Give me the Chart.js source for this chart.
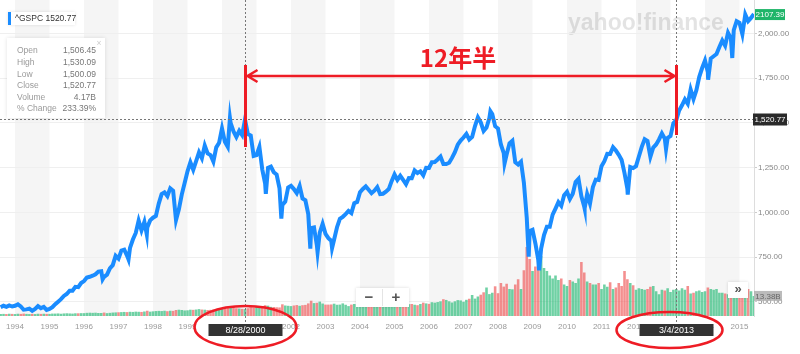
<!DOCTYPE html>
<html>
<head>
<meta charset="utf-8">
<script src="https://cdn.jsdelivr.net/npm/chart.js@4.4.1/dist/chart.umd.min.js"></script>
<style>
  html, body { margin: 0; padding: 0; background: #fff; }
  #wrap { width: 800px; height: 354px; }
</style>
</head>
<body>
<div id="wrap"><canvas id="chartGspc" width="800" height="354"></canvas></div>
<script>
// ^GSPC month-end closes, Jul 1993 .. May 2015
const closes = [
  470, 478, 472, 480, 474, 478,
  486, 474, 456, 458, 462, 450, 460, 476, 465, 472, 455, 460,
  470, 487, 501, 515, 533, 544, 562, 562, 584, 582, 605, 616,
  636, 640, 646, 654, 669, 671, 640, 652, 687, 705, 757, 741,
  786, 791, 757, 801, 848, 885, 954, 899, 947, 915, 955, 970,
  980, 1049, 1102, 1112, 1091, 1134, 1121, 957, 1017, 1099, 1164, 1229,
  1280, 1238, 1286, 1335, 1302, 1373, 1329, 1320, 1283, 1363, 1389, 1469,
  1394, 1366, 1499, 1452, 1421, 1455, 1431, 1518, 1437, 1429, 1315, 1320,
  1366, 1240, 1160, 1249, 1256, 1224, 1211, 1134, 1041, 1060, 1139, 1148,
  1130, 1107, 1147, 1077, 1067, 990, 912, 916, 815, 886, 936, 880,
  856, 841, 848, 917, 964, 975, 990, 1008, 996, 1051, 1058, 1112,
  1131, 1145, 1126, 1107, 1121, 1141, 1102, 1104, 1115, 1130, 1174, 1212,
  1181, 1204, 1181, 1157, 1192, 1191, 1234, 1220, 1229, 1207, 1249, 1248,
  1280, 1281, 1295, 1311, 1270, 1270, 1277, 1304, 1336, 1378, 1401, 1418,
  1438, 1407, 1421, 1482, 1531, 1503, 1455, 1474, 1527, 1549, 1481, 1468,
  1379, 1331, 1323, 1386, 1400, 1280, 1267, 1283, 1166, 969, 896, 903,
  826, 735, 798, 873, 919, 919, 987, 1021, 1057, 1036, 1096, 1115,
  1074, 1104, 1169, 1187, 1089, 1031, 1102, 1049, 1141, 1183, 1181, 1258,
  1286, 1327, 1326, 1364, 1345, 1321, 1292, 1219, 1131, 1253, 1247, 1258,
  1312, 1366, 1408, 1398, 1310, 1362, 1379, 1407, 1441, 1412, 1416, 1426,
  1498, 1515, 1569, 1598, 1631, 1606, 1686, 1633, 1682, 1757, 1806, 1848,
  1783, 1859, 1872, 1884, 1924, 1960, 1931, 2003, 1972, 2018, 2068, 2059,
  1995, 2105, 2068, 2086, 2107.39
];

// intra-month highs / lows that stand out on the line: [decimal year, value]
const extremes = [
  [1996.54, 626], [1997.29, 737], [1997.82, 876], [2000.23, 1527],
  [2001.27, 1103], [2001.72, 965], [2002.56, 797], [2002.77, 777],
  [2003.19, 800], [2007.78, 1565], [2008.19, 1273], [2008.89, 752],
  [2009.19, 676], [2010.51, 1022], [2011.76, 1099], [2012.87, 1353],
  [2014.09, 1741], [2014.79, 1862]
];

// volume (billions), same months as closes
const volumes = [
  1.3, 1.4, 1.3, 1.5, 1.4, 1.3,
  1.5, 1.4, 1.6, 1.4, 1.3, 1.4, 1.3, 1.5, 1.4, 1.5, 1.4, 1.4,
  1.6, 1.6, 1.7, 1.5, 1.7, 1.8, 1.7, 1.6, 1.8, 1.8, 1.9, 1.9,
  2.1, 2.2, 2.1, 2.2, 2.0, 2.0, 2.3, 1.9, 2.1, 2.3, 2.4, 2.5,
  2.6, 2.7, 2.6, 2.8, 2.7, 2.9, 2.8, 2.7, 3.0, 3.5, 2.9, 3.1,
  3.3, 3.4, 3.3, 3.5, 3.2, 3.5, 3.4, 4.0, 4.2, 4.0, 3.7, 3.8,
  4.2, 4.1, 4.3, 4.6, 4.3, 4.2, 4.0, 4.1, 4.3, 4.6, 4.4, 4.8,
  5.6, 5.3, 6.4, 5.9, 5.2, 5.0, 4.8, 4.6, 5.2, 5.8, 5.5, 6.2,
  6.1, 6.3, 7.2, 6.9, 6.1, 6.0, 5.8, 5.7, 7.8, 7.0, 6.8, 6.6,
  7.0, 7.3, 6.8, 7.2, 7.4, 8.4, 10.2, 8.6, 8.8, 9.6, 8.3, 7.6,
  7.6, 7.7, 8.2, 7.5, 7.6, 8.4, 7.5, 6.6, 7.6, 8.0, 7.6, 7.4,
  8.1, 7.7, 8.3, 7.5, 7.4, 7.6, 7.5, 6.6, 7.2, 7.9, 7.7, 7.5,
  8.0, 8.4, 8.6, 8.3, 7.9, 8.0, 7.5, 7.2, 8.0, 8.9, 8.4, 8.1,
  9.2, 8.9, 9.3, 9.8, 11.2, 10.7, 9.8, 9.0, 9.8, 10.6, 10.4, 9.5,
  10.8, 11.5, 14.0, 11.6, 13.0, 14.2, 15.8, 19.0, 14.6, 15.5, 19.8, 15.2,
  22.0, 19.6, 21.5, 18.0, 17.8, 21.0, 24.5, 18.0, 30.5, 46.0, 38.0, 30.0,
  33.0, 38.0, 40.0, 32.0, 30.0, 27.0, 25.0, 27.0, 24.0, 25.0, 21.0, 20.0,
  24.0, 23.0, 22.0, 25.0, 36.0, 29.0, 23.0, 22.0, 21.0, 21.0, 22.0, 18.0,
  21.0, 19.5, 22.5, 18.0, 19.0, 22.0, 20.0, 30.0, 24.5, 22.0, 20.5, 17.5,
  18.5, 18.0, 17.5, 18.0, 19.5, 20.0, 16.5, 14.5, 17.5, 17.0, 18.5, 16.0,
  17.5, 18.0, 17.0, 18.5, 17.5, 20.0, 15.0, 15.5, 16.5, 17.0, 16.0, 16.5,
  19.0, 18.0, 17.5, 18.0, 15.5, 15.5, 15.0, 14.5, 16.0, 19.5, 15.0, 17.0,
  19.5, 17.0, 18.0, 16.5, 13.38
];

const yearTicks = [1994, 1995, 1996, 1997, 1998, 1999, 2000, 2001, 2002, 2003, 2004,
                   2005, 2006, 2007, 2008, 2009, 2010, 2011, 2012, 2013, 2014, 2015];
const priceTicks = [500, 750, 1000, 1250, 1500, 1750, 2000];
const markDates = [2000.656, 2013.170];
const markLabels = ['8/28/2000', '3/4/2013'];
const crossValue = 1520.77;
const lastValue = 2107.39;
const lastVolume = 13.38;
const tooltipRows = [
  ['Open', '1,506.45'], ['High', '1,530.09'], ['Low', '1,500.09'],
  ['Close', '1,520.77'], ['Volume', '4.17B'], ['% Change', '233.39%']
];

const FONT = '"Liberation Sans", Arial, sans-serif';
const RED = '#ee1c25';

function monthX(i) { return 1993 + (7 + i) / 12; }

const pricePoints = closes.map((v, i) => ({ x: monthX(i), y: v }))
  .concat(extremes.map(e => ({ x: e[0], y: e[1] })))
  .sort((a, b) => a.x - b.x);

const volPoints = volumes.map((v, i) => ({ x: monthX(i), y: v }));
const volColors = volumes.map((v, i) =>
  (i === 0 || closes[i] >= closes[i - 1]) ? 'rgba(50,190,125,0.7)' : 'rgba(240,95,95,0.7)');

function fmt2(v) {
  return v.toLocaleString('en-US', { minimumFractionDigits: 2, maximumFractionDigits: 2 });
}

function box(ctx, x, y, w, h, fill, stroke) {
  ctx.fillStyle = fill;
  ctx.fillRect(x, y, w, h);
  if (stroke) {
    ctx.strokeStyle = stroke;
    ctx.lineWidth = 1;
    ctx.strokeRect(x + 0.5, y + 0.5, w - 1, h - 1);
  }
}

const decor = {
  id: 'decor',
  beforeDraw(chart) {
    const ctx = chart.ctx, a = chart.chartArea, sx = chart.scales.x;
    ctx.save();
    // alternating year bands
    ctx.fillStyle = '#f5f5f5';
    yearTicks.forEach(yr => {
      if (yr % 2 === 0) {
        const x0 = sx.getPixelForValue(yr), x1 = sx.getPixelForValue(yr + 1);
        ctx.fillRect(x0, a.top, Math.min(x1, a.right) - x0, a.bottom - a.top);
      }
    });
    // watermark
    ctx.font = 'bold 23px ' + FONT;
    ctx.fillStyle = 'rgba(0,0,0,0.11)';
    ctx.textBaseline = 'alphabetic';
    ctx.fillText('yahoo!finance', 568, 30);
    ctx.restore();
  },
  afterDraw(chart) {
    const ctx = chart.ctx, a = chart.chartArea, sx = chart.scales.x, sy = chart.scales.y;
    ctx.save();
    const cy = Math.round(sy.getPixelForValue(crossValue)) + 0.5;
    const mx = markDates.map(d => Math.round(sx.getPixelForValue(d)) + 0.5);

    // crosshair dotted lines
    ctx.strokeStyle = '#777';
    ctx.lineWidth = 1;
    ctx.setLineDash([2, 2]);
    ctx.beginPath();
    ctx.moveTo(a.left, cy); ctx.lineTo(a.right, cy);
    mx.forEach(x => { ctx.moveTo(x, a.top); ctx.lineTo(x, a.bottom + 6); });
    ctx.stroke();
    ctx.setLineDash([]);

    // red markers
    ctx.strokeStyle = RED;
    ctx.lineWidth = 3;
    ctx.beginPath();
    ctx.moveTo(mx[0], 65); ctx.lineTo(mx[0], 147);
    ctx.moveTo(mx[1], 65); ctx.lineTo(mx[1], 135);
    ctx.stroke();
    ctx.lineWidth = 2.5;
    ctx.beginPath();
    ctx.moveTo(mx[0] + 1, 76); ctx.lineTo(mx[1] - 1, 76);
    ctx.moveTo(mx[0] + 12, 70); ctx.lineTo(mx[0] + 2, 76); ctx.lineTo(mx[0] + 12, 82);
    ctx.moveTo(mx[1] - 12, 70); ctx.lineTo(mx[1] - 2, 76); ctx.lineTo(mx[1] - 12, 82);
    ctx.stroke();
    ctx.fillStyle = RED;
    ctx.font = 'bold 24px "Noto Sans CJK JP", sans-serif';
    ctx.textAlign = 'center';
    ctx.textBaseline = 'middle';
    ctx.fillText('12年半', (mx[0] + mx[1]) / 2 - 3, 58);

    // date boxes under the x axis
    ctx.font = '9px ' + FONT;
    mx.forEach((x, i) => {
      box(ctx, x - 37, 324, 74, 12, '#333');
      ctx.fillStyle = '#fff';
      ctx.fillText(markLabels[i], x, 330.5);
    });

    // red ellipses
    ctx.strokeStyle = RED;
    ctx.lineWidth = 2.5;
    ctx.beginPath();
    ctx.ellipse(mx[0], 327, 51, 21, 0, 0, Math.PI * 2);
    ctx.stroke();
    ctx.beginPath();
    ctx.ellipse(mx[1] - 7, 330, 53, 18, 0, 0, Math.PI * 2);
    ctx.stroke();

    // right side value flags
    ctx.textAlign = 'center';
    ctx.font = '8px ' + FONT;
    const gy = sy.getPixelForValue(lastValue);
    box(ctx, 755, gy - 5, 30, 11, '#1fb569');
    ctx.fillStyle = '#fff';
    ctx.fillText(lastValue.toFixed(2), 770, gy + 0.5);
    box(ctx, 753, cy - 6, 34, 12, '#2a2a2a');
    ctx.fillStyle = '#fff';
    ctx.fillText(fmt2(crossValue), 770, cy + 0.5);
    const vy = chart.scales.vol.getPixelForValue(lastVolume);
    ctx.fillStyle = 'rgba(175,175,175,0.85)';
    ctx.fillRect(754, vy - 5, 28, 10);
    ctx.fillStyle = '#666';
    ctx.fillText(lastVolume.toFixed(2) + 'B', 768, vy + 0.5);

    // zoom buttons
    ctx.shadowColor = 'rgba(0,0,0,0.15)';
    ctx.shadowBlur = 3;
    box(ctx, 356, 288, 53, 19, '#fff');
    box(ctx, 728, 282, 20, 16, '#fff');
    ctx.shadowBlur = 0;
    ctx.strokeStyle = '#e4e4e4';
    ctx.lineWidth = 1;
    ctx.beginPath(); ctx.moveTo(382.5, 289); ctx.lineTo(382.5, 306); ctx.stroke();
    ctx.fillStyle = '#555';
    ctx.font = 'bold 15px ' + FONT;
    ctx.fillText('\u2212', 369, 297.5);
    ctx.fillText('+', 396, 297.5);
    ctx.font = 'bold 13px ' + FONT;
    ctx.fillText('\u00bb', 738, 289);

    // legend chip
    ctx.shadowColor = 'rgba(0,0,0,0.12)';
    ctx.shadowBlur = 3;
    box(ctx, 8, 12, 67, 13, '#fff');
    ctx.shadowBlur = 0;
    ctx.fillStyle = '#1a8cff';
    ctx.fillRect(8, 12, 3, 13);
    ctx.fillStyle = '#333';
    ctx.textAlign = 'left';
    ctx.font = '8.5px ' + FONT;
    ctx.fillText('^GSPC 1520.77', 15, 18.5);

    // tooltip panel
    ctx.shadowColor = 'rgba(0,0,0,0.12)';
    ctx.shadowBlur = 4;
    box(ctx, 7, 38, 98, 80, '#fff');
    ctx.shadowBlur = 0;
    ctx.font = '8.5px ' + FONT;
    tooltipRows.forEach((r, i) => {
      const y = 51 + i * 11.6;
      ctx.textAlign = 'left';
      ctx.fillStyle = '#9a9a9a';
      ctx.fillText(r[0], 17, y);
      ctx.textAlign = 'right';
      ctx.fillStyle = '#777';
      ctx.fillText(r[1], 96, y);
    });
    ctx.fillStyle = '#ccc';
    ctx.textAlign = 'center';
    ctx.fillText('\u00d7', 99, 44);
    ctx.restore();
  }
};

new Chart(document.getElementById('chartGspc'), {
  type: 'line',
  data: {
    datasets: [{
      type: 'line',
      data: pricePoints,
      borderColor: '#1a8cff',
      borderWidth: 4,
      pointRadius: 0,
      tension: 0,
      yAxisID: 'y',
      order: 1
    }, {
      type: 'bar',
      data: volPoints,
      backgroundColor: volColors,
      barPercentage: 0.9,
      categoryPercentage: 1,
      yAxisID: 'vol',
      order: 2
    }]
  },
  options: {
    responsive: false,
    animation: false,
    devicePixelRatio: 1,
    layout: { padding: 0 },
    plugins: { legend: { display: false }, tooltip: { enabled: false } },
    scales: {
      x: {
        type: 'linear', min: 1993.565, max: 2015.42, offset: false,
        grid: { display: false, drawTicks: false, offset: false },
        border: { display: false },
        ticks: {
          color: '#999', font: { size: 8, family: FONT }, padding: 6,
          maxRotation: 0, autoSkip: false, callback: v => String(v)
        },
        afterBuildTicks: s => { s.ticks = yearTicks.map(v => ({ value: v })); },
        afterFit: s => { s.height = 38; s.paddingLeft = 0; s.paddingRight = 0; }
      },
      y: {
        position: 'right', min: 421, max: 2186,
        grid: { color: '#efefef', tickLength: 3, tickColor: '#ccc' },
        border: { color: '#ddd' },
        ticks: { color: '#888', font: { size: 8, family: FONT }, padding: 1, callback: v => fmt2(v) },
        afterBuildTicks: s => { s.ticks = priceTicks.map(v => ({ value: v })); },
        afterFit: s => { s.width = 46; s.paddingTop = 0; s.paddingBottom = 0; }
      },
      vol: { display: false, min: 0, max: 316 / 1.5 }
    }
  },
  plugins: [decor]
});
</script>
</body>
</html>
